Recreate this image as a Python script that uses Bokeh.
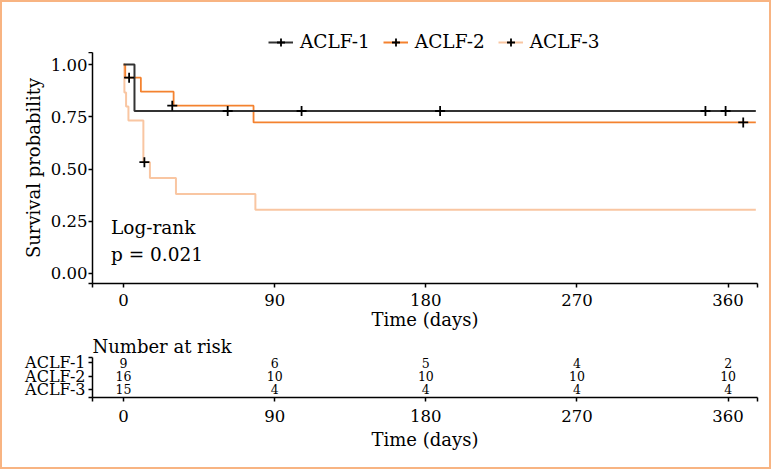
from bokeh.plotting import figure
from bokeh.models import Range1d, FixedTicker, Legend, LegendItem, Label, ColumnDataSource, Styles
from bokeh.layouts import column
from bokeh.embed import file_html
from bokeh.resources import INLINE
from bokeh.core.properties import value

# ---------------- data ----------------
groups = ["ACLF-1", "ACLF-2", "ACLF-3"]
colors = ["#333333", "#F4822F", "#F9C6A2"]

aclf1_time = [0, 6.5, 376.5]
aclf1_surv = [1.0, 0.778, 0.778]
aclf2_time = [0, 1.0, 10.3, 29.8, 77.4, 376.5]
aclf2_surv = [1.0, 0.9375, 0.8705, 0.8036, 0.723, 0.723]
aclf3_time = [0, 0.5, 1.5, 2.9, 11.8, 15.7, 31.2, 78.5, 376.5]
aclf3_surv = [1.0, 0.867, 0.800, 0.733, 0.533, 0.457, 0.381, 0.305, 0.305]

cens1_time = [62, 106, 188.5, 346.5, 358.5]
cens1_surv = [0.778, 0.778, 0.778, 0.778, 0.778]
cens2_time = [3.3, 29, 369]
cens2_surv = [0.9375, 0.8036, 0.723]
cens3_time = [12.4]
cens3_surv = [0.533]

x_ticks = [0, 90, 180, 270, 360]
y_ticks = [0.0, 0.25, 0.5, 0.75, 1.0]
y_tick_labels = ["0.00", "0.25", "0.50", "0.75", "1.00"]

risk_times = [0, 90, 180, 270, 360]
risk_aclf1 = [9, 6, 5, 4, 2]
risk_aclf2 = [16, 10, 10, 10, 10]
risk_aclf3 = [15, 4, 4, 4, 4]
risk_rows = [3, 2, 1]

pval_lines = ["Log-rank", "p = 0.021"]

# ---------------- style ----------------
FONT = "DejaVu Serif"
NAN = float("nan")
x_start, x_end = -18.5, 377.5
y_start, y_end = -0.048, 1.058
BORDER = 2
W = 771 - 2 * BORDER
H0 = 52 - BORDER
H1 = 280
H2 = 469 - 2 * BORDER - H0 - H1
LEFT = 92 - BORDER
RIGHT = W - 665 - LEFT

def style_x_axis(ax, label_standoff, title_standoff):
    ax.ticker = FixedTicker(ticks=[x_start] + x_ticks + [x_end])
    ov = {x_start: "", x_end: ""}
    for t in x_ticks:
        ov[t] = str(t)
    ax.major_label_overrides = ov
    ax.axis_label = "Time (days)"
    ax.axis_label_text_font = FONT
    ax.axis_label_text_font_size = "18px"
    ax.axis_label_text_font_style = "normal"
    ax.axis_label_text_color = "black"
    ax.axis_label_standoff = title_standoff
    ax.major_label_text_font = FONT
    ax.major_label_text_font_size = "16.5px"
    ax.major_label_text_color = "black"
    ax.major_label_standoff = label_standoff
    ax.major_tick_out = 4
    ax.major_tick_in = 0
    ax.minor_tick_out = 0
    ax.minor_tick_in = 0
    ax.axis_line_color = "black"
    ax.axis_line_width = 1.5
    ax.major_tick_line_color = "black"
    ax.major_tick_line_width = 1.5

# ---------------- legend strip ----------------
p0 = figure(width=W, height=H0, x_range=Range1d(0, 1), y_range=Range1d(0, 1),
            x_axis_location=None, y_axis_location=None,
            output_backend="svg", toolbar_location=None,
            min_border_left=0, min_border_right=0, min_border_top=0, min_border_bottom=0)
p0.outline_line_color = None
p0.grid.visible = False
leg_items = []
for g, col in zip(groups, colors):
    lr = p0.line([NAN, NAN], [NAN, NAN], line_color=col, line_width=2)
    cr = p0.scatter([NAN], [NAN], marker="cross", size=10, line_color="black", line_width=1.8)
    leg_items.append(LegendItem(label=g, renderers=[lr, cr]))
legend = Legend(items=leg_items, location=(176, 0), orientation="horizontal",
                border_line_color=None, background_fill_alpha=0,
                padding=0, margin=0, spacing=13,
                glyph_width=25, glyph_height=20, label_height=20,
                label_standoff=7, label_text_font=FONT,
                label_text_font_size="18.5px", label_text_color="black")
p0.add_layout(legend)

# ---------------- main plot ----------------
p1 = figure(width=W, height=H1,
            x_range=Range1d(x_start, x_end), y_range=Range1d(y_start, y_end),
            output_backend="svg", toolbar_location=None,
            min_border_left=LEFT, min_border_right=RIGHT,
            min_border_top=0, min_border_bottom=H1 - 231)
p1.outline_line_color = None
p1.grid.visible = False

p1.step(aclf3_time, aclf3_surv, mode="after", line_color=colors[2], line_width=2)
p1.step(aclf2_time, aclf2_surv, mode="after", line_color=colors[1], line_width=1.8)
p1.step(aclf1_time, aclf1_surv, mode="after", line_color=colors[0], line_width=2)

p1.scatter(cens1_time, cens1_surv, marker="cross", size=10, line_color="black", line_width=1.8)
p1.scatter(cens2_time, cens2_surv, marker="cross", size=10, line_color="black", line_width=1.8)
p1.scatter(cens3_time, cens3_surv, marker="cross", size=10, line_color="black", line_width=1.8)

style_x_axis(p1.xaxis[0], 6, 0)

ya = p1.yaxis[0]
ya.ticker = FixedTicker(ticks=[y_start] + y_ticks + [y_end])
yov = {y_start: "", y_end: ""}
for t, lab in zip(y_ticks, y_tick_labels):
    yov[t] = lab
ya.major_label_overrides = yov
ya.axis_label = "Survival probability"
ya.axis_label_text_font = FONT
ya.axis_label_text_font_size = "18px"
ya.axis_label_text_font_style = "normal"
ya.axis_label_text_color = "black"
ya.axis_label_standoff = 4
ya.major_label_text_font = FONT
ya.major_label_text_font_size = "16.5px"
ya.major_label_text_color = "black"
ya.major_label_standoff = 1
ya.major_tick_out = 4
ya.major_tick_in = 0
ya.minor_tick_out = 0
ya.minor_tick_in = 0
ya.axis_line_color = "black"
ya.axis_line_width = 1.5
ya.major_tick_line_color = "black"
ya.major_tick_line_width = 1.5

p1.add_layout(Label(x=-7.5, y=0.221, text=pval_lines[0], text_font=FONT,
                    text_font_size="18.5px", text_baseline="middle", text_color="black"))
p1.add_layout(Label(x=-7.5, y=0.092, text=pval_lines[1], text_font=FONT,
                    text_font_size="18.5px", text_baseline="middle", text_color="black"))

# ---------------- risk table ----------------
p2 = figure(width=W, height=H2,
            x_range=Range1d(x_start, x_end), y_range=Range1d(0.4, 3.39),
            output_backend="svg", toolbar_location=None,
            min_border_left=LEFT, min_border_right=RIGHT,
            min_border_top=21, min_border_bottom=H2 - 21 - 44,
            title="Number at risk")
p2.outline_line_color = None
p2.grid.visible = False
p2.title.text_font = FONT
p2.title.text_font_size = "18px"
p2.title.text_font_style = "normal"
p2.title.text_color = "black"
p2.title.align = "left"
p2.title.standoff = 2
p2.title.offset = 0

style_x_axis(p2.xaxis[0], 8, 4)

ra = p2.yaxis[0]
ra.ticker = FixedTicker(ticks=[0.4] + risk_rows + [3.39])
ra.major_label_overrides = {0.4: "", 3.39: "", 3: groups[0], 2: groups[1], 1: groups[2]}
ra.major_label_text_font = FONT
ra.major_label_text_font_size = "16px"
ra.major_label_text_color = "black"
ra.major_label_standoff = 3
ra.major_tick_out = 4
ra.major_tick_in = 0
ra.minor_tick_out = 0
ra.minor_tick_in = 0
ra.axis_line_color = "black"
ra.axis_line_width = 1.5
ra.major_tick_line_color = "black"
ra.major_tick_line_width = 1.5

rx, ry, rt = [], [], []
for row, counts in zip(risk_rows, [risk_aclf1, risk_aclf2, risk_aclf3]):
    for t, n in zip(risk_times, counts):
        rx.append(t)
        ry.append(row)
        rt.append(str(n))
src = ColumnDataSource(dict(x=rx, y=ry, text=rt))
p2.text(x="x", y="y", text="text", source=src, text_font=value(FONT),
        text_font_size="12.5px", text_align="center", text_baseline="middle",
        y_offset=0, text_color="black")

layout = column(p0, p1, p2, styles=Styles(border="2px solid #F8B482"))

open("out.html", "w").write(file_html(layout, INLINE))
